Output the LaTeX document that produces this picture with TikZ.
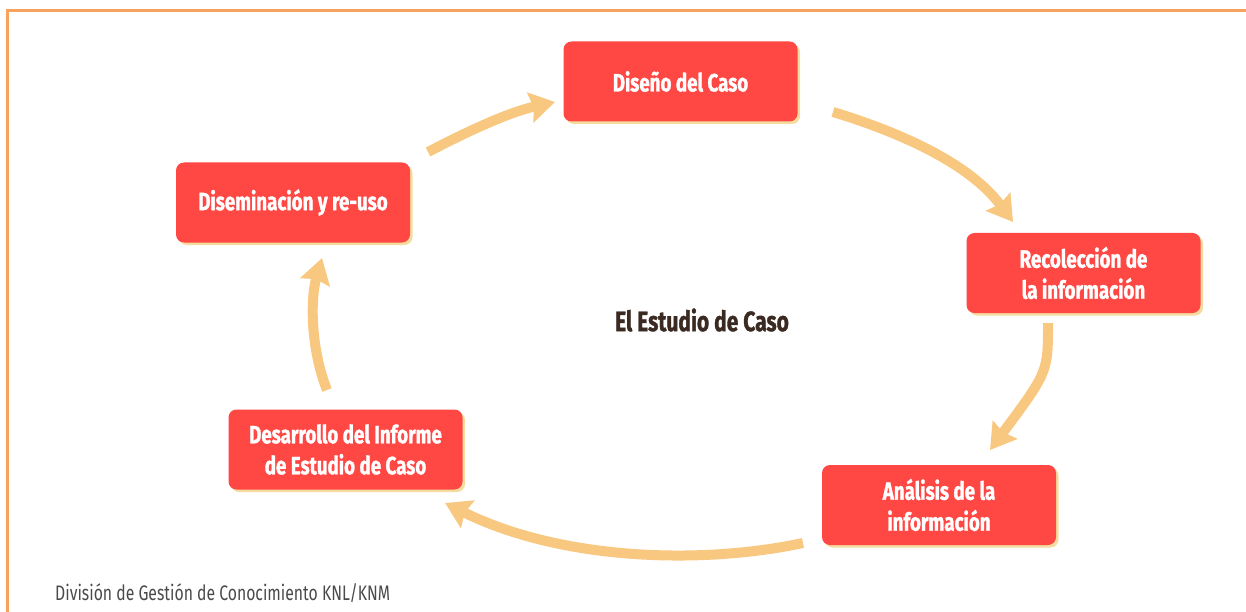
\documentclass[tikz,border=0pt]{standalone}
\usepackage{fontspec}
\setmainfont{Fira Sans}[FakeStretch=0.75, BoldFeatures={FakeBold=1.2}]
\usetikzlibrary{arrows.meta,shadows}
\definecolor{boxred}{HTML}{FF4744}
\definecolor{shadowc}{HTML}{F3DC9E}
\definecolor{arrowc}{HTML}{F9C880}
\definecolor{framec}{HTML}{F7A25F}
\definecolor{titlec}{HTML}{3A2A22}
\definecolor{footc}{HTML}{4A4A4A}
\begin{document}
\begin{tikzpicture}[x=1pt,y=-1pt,
  stepbox/.style={fill=boxred, rounded corners=8pt, minimum width=234pt, minimum height=80pt,
    align=center, text=white, font=\fontsize{25}{31}\selectfont\bfseries, inner sep=0pt,
    general shadow={fill=shadowc, shadow xshift=2.5pt, shadow yshift=-2.5pt}},
  cyc/.style={draw=arrowc, line width=10pt, -{Stealth[width=30pt,length=25pt,inset=3pt]}}]
\useasboundingbox (0,0) rectangle (1246,612);
\draw[framec, line width=3pt] (7,612) -- (7,11) -- (1246,11);
\node[stepbox] (design) at (680.5,81.5) {Diseño del Caso};
\node[stepbox] (dissem) at (293,202.5) {Diseminación y re-uso};
\node[stepbox] (recol) at (1083.5,273) {Recolección de\\la información};
\node[stepbox] (anal) at (939,505) {Análisis de la\\información};
\node[stepbox] (desar) at (345.5,449.5) {Desarrollo del Informe\\de Estudio de Caso};
\node[text=titlec, font=\fontsize{28}{30}\selectfont\bfseries] (title) at (702,320) {El Estudio de Caso};
\node[anchor=west, text=footc, inner sep=0pt, font=\fontsize{21}{24}\selectfont] (foot) at (55,593) {División de Gestión de Conocimiento KNL/KNM};
\coordinate (a1s) at (428,152); \coordinate (a1e) at (555,102);
\coordinate (a2s) at (833,112); \coordinate (a2e) at (1013,222);
\coordinate (a3s) at (1048,323); \coordinate (a3e) at (990,450);
\coordinate (a4s) at (803,543); \coordinate (a4e) at (445,503);
\coordinate (a5s) at (327,390); \coordinate (a5e) at (322,258);
\draw[cyc] (a1s) .. controls (470,130) and (510,112) .. (a1e);
\draw[cyc] (a2s) .. controls (902,133) and (970,164) .. (a2e);
\draw[cyc] (a3s) .. controls (1048,372) .. (a3e);
\draw[cyc] (a4s) .. controls (700,565) and (560,560) .. (a4e);
\draw[cyc] (a5s) .. controls (311,350) and (310,300) .. (a5e);
\end{tikzpicture}
\end{document}
